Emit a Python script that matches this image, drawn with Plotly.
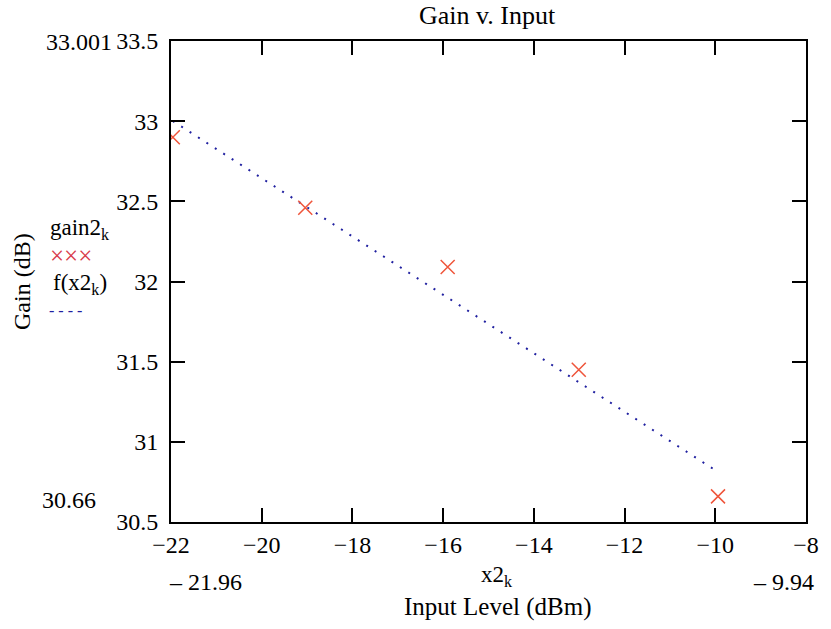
import plotly.graph_objects as go

# Data
x2 = [-21.96, -19.04, -15.90, -13.01, -9.94]
gain2 = [32.90, 32.46, 32.09, 31.45, 30.66]
fit_vals = [33.001, 32.472, 31.899, 31.372, 30.812]

x_ticks = [-22, -20, -18, -16, -14, -12, -10, -8]
y_ticks = [30.5, 31, 31.5, 32, 32.5, 33, 33.5]
x_range = [-22, -8]
y_range = [30.5, 33.5]

W, H = 831, 629
# plot area in reference pixels: left 171, right 806, top 41, bottom 522
L, T = 171, 41
R = W - 806
B = H - 522
PW, PH = W - L - R, H - T - B

FONT = "Liberation Serif, DejaVu Serif, serif"


def px(xp):
    return (xp - L) / PW


def py(yp):
    return (H - B - yp) / PH


fig = go.Figure()
fig.add_trace(go.Scatter(
    x=x2, y=fit_vals, mode="lines",
    line=dict(color="#2020a0", width=2, dash="2px,8px"),
    showlegend=False, hoverinfo="skip"))
fig.add_trace(go.Scatter(
    x=x2, y=gain2, mode="markers",
    marker=dict(symbol="x-thin-open", size=14,
                line=dict(color="#d83a4a", width=1.5)),
    showlegend=False))

axis_common = dict(
    showgrid=False, zeroline=False, showline=True, linecolor="black",
    linewidth=2, mirror="allticks", ticks="inside", ticklen=14,
    tickwidth=2, tickcolor="black",
    tickfont=dict(family=FONT, size=24, color="black"))

fig.update_xaxes(range=x_range, tickvals=x_ticks, **axis_common)
fig.update_yaxes(range=y_range, tickvals=y_ticks, ticklabelstandoff=6,
                 **axis_common)

ann = []


def add_text(text, xp, yp, size=24, color="black", xanchor="center",
             textangle=0):
    ann.append(dict(text=text, x=px(xp), y=py(yp), xref="paper",
                    yref="paper", showarrow=False, xanchor=xanchor,
                    yanchor="middle", textangle=textangle,
                    font=dict(family=FONT, size=size, color=color)))


add_text("Gain v. Input", 487, 15, size=26)
add_text("33.001", 79, 42, size=24)
add_text("30.66", 69, 500, size=24)
add_text("\u2013 21.96", 205, 582, size=24)
add_text("x2<sub>k</sub>", 497, 576, size=23)
add_text("\u2013 9.94", 783, 582, size=24)
add_text("Input Level (dBm)", 497, 607, size=25)
add_text("Gain (dB)", 22, 282, size=24, textangle=-90)
add_text("gain2<sub>k</sub>", 80, 229, size=23)
add_text("\u00d7\u00d7\u00d7", 71, 256, size=25, color="#d83a4a")
add_text("f(x2<sub>k</sub>)", 80, 284, size=23)
add_text("- - - -", 65, 310, size=16, color="#2020a0")

fig.update_layout(
    width=W, height=H,
    margin=dict(l=L, r=R, t=T, b=B),
    paper_bgcolor="white", plot_bgcolor="white",
    annotations=ann, showlegend=False)

fig.write_html(
    "out.html",
    config={"displayModeBar": False},
    post_script="document.body.style.margin='0';"
                "document.body.style.overflow='hidden';")
